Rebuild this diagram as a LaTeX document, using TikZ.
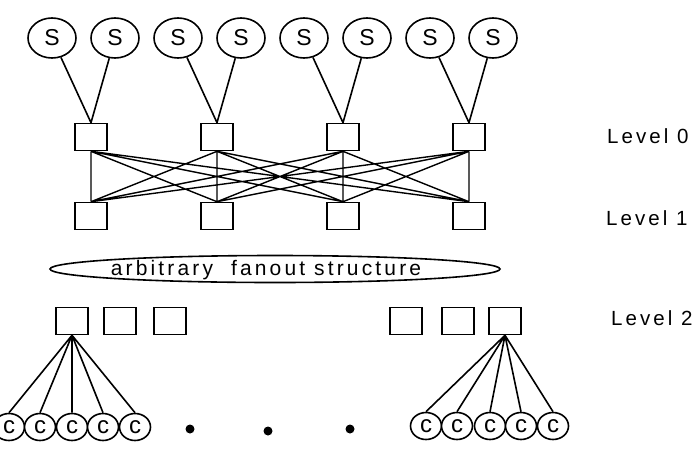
\documentclass[tikz,border=0pt]{standalone}
\usepackage{fontspec}
\setmainfont{Liberation Sans}[LetterSpace=15]
\usetikzlibrary{shapes.geometric}

\begin{document}
\begin{tikzpicture}[x=1pt,y=-1pt,line width=1.6pt,
  src/.style={draw,ellipse,minimum width=48pt,minimum height=40pt,inner sep=0pt,
    font=\fontsize{23}{26}\selectfont},
  cli/.style={draw,ellipse,minimum width=31pt,minimum height=27pt,inner sep=0pt,
    font=\fontsize{24}{26}\selectfont,fill=white},
  sw/.style={draw,rectangle,minimum width=32pt,minimum height=27pt,inner sep=0pt},
  dot/.style={circle,fill=black,minimum size=9pt,inner sep=0pt},
  lvl/.style={font=\fontsize{20.5}{24}\selectfont,anchor=west}]
  \useasboundingbox (0,0) rectangle (696,456);
  % sources
  \node[src] (s1) at (52,38)  {S};
  \node[src] (s2) at (115,38) {S};
  \node[src] (s3) at (178,38) {S};
  \node[src] (s4) at (241,38) {S};
  \node[src] (s5) at (304,38) {S};
  \node[src] (s6) at (367,38) {S};
  \node[src] (s7) at (430,38) {S};
  \node[src] (s8) at (493,38) {S};
  % level 0 and level 1
  \node[sw] (a1) at (91,137)  {};
  \node[sw] (a2) at (217,137) {};
  \node[sw] (a3) at (343,137) {};
  \node[sw] (a4) at (469,137) {};
  \node[sw] (b1) at (91,216)  {};
  \node[sw] (b2) at (217,216) {};
  \node[sw] (b3) at (343,216) {};
  \node[sw] (b4) at (469,216) {};
  \node[lvl] (l0) at (603,136) {Level 0};
  \node[lvl] (l1) at (602,218) {Level 1};
  \draw (s1) -- (a1.north) (s2) -- (a1.north)
        (s3) -- (a2.north) (s4) -- (a2.north)
        (s5) -- (a3.north) (s6) -- (a3.north)
        (s7) -- (a4.north) (s8) -- (a4.north);
  \draw[line width=1.4pt]
        (a1.south) -- (b1.north) (a1.south) -- (b2.north) (a1.south) -- (b3.north) (a1.south) -- (b4.north)
        (a2.south) -- (b1.north) (a2.south) -- (b2.north) (a2.south) -- (b3.north) (a2.south) -- (b4.north)
        (a3.south) -- (b1.north) (a3.south) -- (b2.north) (a3.south) -- (b3.north) (a3.south) -- (b4.north)
        (a4.south) -- (b1.north) (a4.south) -- (b2.north) (a4.south) -- (b3.north) (a4.south) -- (b4.north);
  % fanout
  \node[draw,ellipse,minimum width=450pt,minimum height=27pt,inner sep=0pt] (fan) at (275,269) {};
  \node[font=\fontsize{21}{24}\selectfont] (fant) at (266,270) {arbitrary\ \ fanout structure};
  % level 2
  \node[sw] (c1) at (72,321)  {};
  \node[sw] (c2) at (120,321) {};
  \node[sw] (c3) at (170,321) {};
  \node[sw] (c4) at (406,321) {};
  \node[sw] (c5) at (458,321) {};
  \node[sw] (c6) at (505,321) {};
  \node[lvl] (l2) at (607,318) {Level 2};
  % clients
  \node[cli] (k1) at (9,427)   {c};
  \node[cli] (k2) at (40,427)  {c};
  \node[cli] (k3) at (72,427)  {\raisebox{-2pt}{c}};
  \node[cli] (k4) at (103,427) {c};
  \node[cli] (k5) at (135,427) {c};
  \node[cli] (k6) at (426,426) {c};
  \node[cli] (k7) at (457,426) {c};
  \node[cli] (k8) at (490,426) {\raisebox{-2pt}{c}};
  \node[cli] (k9) at (521,426) {\raisebox{-2pt}{c}};
  \node[cli] (k10) at (553,426) {c};
  \draw (c1.south) -- (k1.north) (c1.south) -- (k2.north) (c1.south) -- (k3.north)
        (c1.south) -- (k4.north) (c1.south) -- (k5.north);
  \draw (c6.south) -- (k6.north) (c6.south) -- (k7.north) (c6.south) -- (k8.north)
        (c6.south) -- (k9.north) (c6.south) -- (k10.north);
  \node[dot] (d1) at (190,429) {};
  \node[dot] (d2) at (268,431) {};
  \node[dot] (d3) at (350,429) {};
\end{tikzpicture}
\end{document}
